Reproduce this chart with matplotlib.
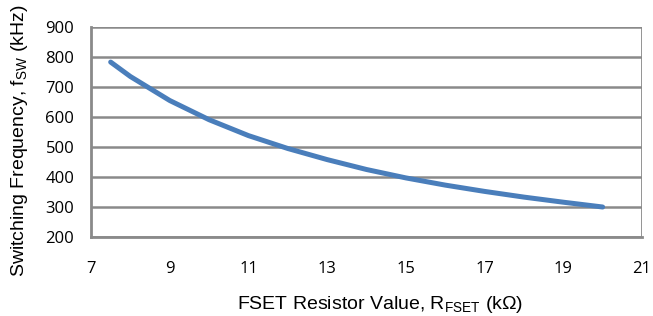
import matplotlib
matplotlib.use("Agg")
import matplotlib.pyplot as plt

r_fset = [7.5, 8, 9, 10, 11, 12, 13, 14, 15, 16, 17, 18, 19, 20]
f_sw = [783, 735, 655, 591, 538, 495, 458, 425, 397, 373, 352, 333, 316, 300]
x_ticks = [7, 9, 11, 13, 15, 17, 19, 21]
y_ticks = [200, 300, 400, 500, 600, 700, 800, 900]

W, H = 653, 316
plt.rcParams['font.family'] = ['Liberation Sans', 'DejaVu Sans']
fig = plt.figure(figsize=(W / 100, H / 100), dpi=100)
L, R, T, B = 91, 642, 27, 237
ax = fig.add_axes([L / W, 1 - B / H, (R - L) / W, (B - T) / H])

ax.plot(r_fset, f_sw, color='#4a7ebb', lw=3.6, solid_capstyle='round', zorder=3)
ax.set_xlim(7, 21)
ax.set_ylim(200, 900)
ax.set_xticks(x_ticks)
ax.set_yticks(y_ticks)
ax.tick_params(length=0, colors='black', labelsize=12, labelfontfamily='Open Sans')
ax.tick_params(axis='y', pad=12)
ax.tick_params(axis='x', pad=17)
ax.yaxis.grid(True, color='#8a8a8a', lw=1.8)
ax.set_axisbelow(True)
for s in ['top', 'right']:
    ax.spines[s].set_visible(False)
for s in ['left', 'bottom']:
    ax.spines[s].set_color('#8a8a8a')
    ax.spines[s].set_linewidth(2)
ax.axvline(21, color='#8a8a8a', lw=2, zorder=2)

fig.text(380 / W, 1 - 309 / H, 'FSET Resistor Value, R$_{\\mathregular{FSET}}$ (k\u03a9)',
         fontsize=14, ha='center', va='baseline')
fig.text(24 / W, 1 - 141 / H, 'Switching Frequency, f$_{\\mathregular{SW}}$ (kHz)',
         fontsize=14, ha='center', va='baseline', rotation=90, rotation_mode='anchor')
fig.savefig('out.png', dpi=100)
